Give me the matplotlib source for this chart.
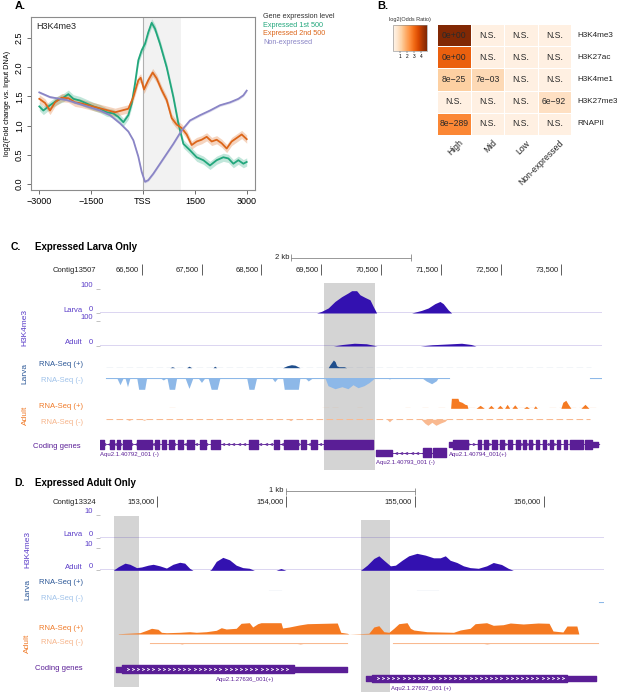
import numpy as np
import matplotlib
matplotlib.use("Agg")
import matplotlib.pyplot as plt

plt.rcParams['font.family'] = ['Liberation Sans', 'DejaVu Sans']

W, H = 617, 692

# ---------------- panel A: H3K4me3 profile around TSS ----------------
a_ticks = [-3000, -1500, 0, 1500, 3000]
a_ticklabels = ['\u22123000', '\u22121500', 'TSS', '1500', '3000']
a_yticks = [0.0, 0.5, 1.0, 1.5, 2.0, 2.5]
a_shade_end = 1100

green_x = [-3000, -2883, -2690, -2497, -2304, -2160, -2015, -1822, -1629, -1436, -1243, -1050, -857,
           -713, -568, -424, -327, -231, -135, -38, 58, 154, 251, 347, 492, 685, 878, 1022, 1167,
           1360, 1553, 1746, 1938, 2131, 2324, 2469, 2614, 2758, 2903, 3000]
green_y = [1.33, 1.26, 1.35, 1.43, 1.48, 1.54, 1.46, 1.43, 1.38, 1.33, 1.29, 1.23, 1.21,
           1.15, 1.06, 1.18, 1.38, 1.72, 2.12, 2.29, 2.40, 2.60, 2.76, 2.66, 2.40, 2.00, 1.49, 1.04, 0.69,
           0.58, 0.46, 0.41, 0.32, 0.41, 0.46, 0.44, 0.35, 0.41, 0.35, 0.38]
orange_x = [-3000, -2835, -2690, -2545, -2352, -2160, -1967, -1774, -1581, -1388, -1195, -1002, -809,
            -616, -424, -279, -135, -67, 29, 154, 280, 395, 540, 685, 830, 974, 1119, 1264, 1408,
            1553, 1697, 1842, 1987, 2131, 2276, 2421, 2565, 2710, 2855, 3000]
orange_y = [1.46, 1.39, 1.26, 1.40, 1.48, 1.47, 1.40, 1.38, 1.35, 1.32, 1.29, 1.26, 1.23,
            1.26, 1.29, 1.49, 1.78, 1.82, 1.62, 1.78, 1.91, 1.81, 1.61, 1.44, 1.13, 1.02, 0.96, 0.85, 0.67,
            0.73, 0.76, 0.81, 0.73, 0.76, 0.70, 0.61, 0.73, 0.79, 0.85, 0.77]
purple_x = [-3000, -2690, -2208, -1725, -1243, -953, -664, -424, -279, -135, -38, 58, 154, 299, 492,
            685, 878, 1119, 1360, 1649, 1938, 2228, 2517, 2758, 2903, 3000]
purple_y = [1.57, 1.49, 1.44, 1.35, 1.26, 1.18, 1.04, 0.90, 0.75, 0.47, 0.21, 0.04, 0.07, 0.18, 0.35,
            0.52, 0.69, 0.92, 1.09, 1.18, 1.26, 1.35, 1.40, 1.46, 1.52, 1.60]
a_series = ['Expressed 1st 500', 'Expressed 2nd 500', 'Non-expressed']
a_se = [0.07, 0.07, 0.02]
a_colors = ['#22a77c', '#dc661a', '#8a85c6']

# ---------------- panel B: enrichment heatmap ----------------
hm_rows = ['H3K4me3', 'H3K27ac', 'H3K4me1', 'H3K27me3', 'RNAPII']
hm_cols = ['High', 'Mid', 'Low', 'Non-expressed']
hm_log2or = [[4.75, 0.2, 0.2, 0.2],
             [3.15, 0.2, 0.2, 0.2],
             [1.2, 0.95, 0.2, 0.2],
             [0.2, 0.2, 0.2, 0.75],
             [2.5, 0.2, 0.2, 0.2]]
hm_text = [['0e+00', 'N.S.', 'N.S.', 'N.S.'],
           ['0e+00', 'N.S.', 'N.S.', 'N.S.'],
           ['8e\u221225', '7e\u221203', 'N.S.', 'N.S.'],
           ['N.S.', 'N.S.', 'N.S.', '6e\u221292'],
           ['8e\u2212289', 'N.S.', 'N.S.', 'N.S.']]
hm_cbar_ticks = [1, 2, 3, 4]

# ---------------- panel C: Contig13507, expressed in larva only ----------------
c_xlim = (65811, 74184)
c_ticks = [66500, 67500, 68500, 69500, 70500, 71500, 72500, 73500]
c_scalebar = (69000, 71000)
c_highlight = (69550, 70400)

c_larva_k4_x = [65811, 69420, 69504, 69614, 69726, 69838, 69949, 70005, 70088, 70144, 70227, 70311,
                70366, 70422, 71006, 71173, 71284, 71395, 71479, 71534, 71617, 71674, 74184]
c_larva_k4_y = [0, 0, 7, 21, 48, 68, 84, 93, 93, 76, 65, 55, 27, 0, 0, 11, 21, 39, 48, 39, 13, 0, 0]
c_adult_k4_x = [65811, 69700, 69850, 70050, 70250, 70430, 71150, 71350, 71600, 71840, 72000, 72080, 74184]
c_adult_k4_y = [0, 0, 6, 11, 9, 0, 0, 5, 8, 11, 6, 0, 0]

c_lrna_pos_x = [66972, 67010, 67056, 67251, 67290, 67335, 67690, 67720, 67752, 68853, 68930, 69000,
                69060, 69142, 69614, 69643, 69700, 69730, 69754, 69790, 69850, 69880, 69920]
c_lrna_pos_y = [0, 1, 0, 0, 1.5, 0, 0, 1.5, 0, 0, 2, 3, 2.5, 0, 0, 3, 7.7, 6, 2, 1, 1, 1, 0]
c_lrna_neg_x = [66083, 66138, 66193, 66221, 66263, 66305, 66417, 66450, 66550, 66583, 66805, 66861,
                66917, 66922, 66960, 67050, 67084, 67223, 67290, 67356, 67440, 67498, 67557, 67607,
                67660, 67760, 67807, 68252, 68291, 68374, 68419, 68670, 68720, 68775, 68853, 68880,
                69115, 69142, 69225, 69280, 69358, 69559, 69610, 69727, 69843, 69944, 70027, 70111,
                70211, 70294, 70394, 70594, 70636, 70678, 71173, 71250, 71340, 71420, 71448]
c_lrna_neg_y = [0, -7, 0, 0, -9, 0, 0, -11.6, -11.6, 0, 0, -2.3,
                0, 0, -11.6, -11.6, 0, 0, -10.7, 0, 0, -4.7, 0, 0,
                -11.6, -11.6, 0, 0, -11.6, -11.6, 0, 0, -4, 0, 0, -11.6,
                -11.6, 0, 0, -3.3, 0, 0, -8, -11, -9, -11, -7, -10,
                -8, -5, 0, 0, -1.3, 0, 0, -3.3, -6, -3, 0]
c_lrna_neg_cov = [(65905, 71629), (73990, 74184)]

c_arna_pos_x = [71657, 71670, 71779, 71796, 71846, 71896, 71930, 71946,
                72082, 72150, 72218, 72280, 72330, 72380, 72430, 72480, 72530, 72558, 72600, 72643,
                72680, 72728, 72775, 72874, 72923, 72972, 73039, 73070, 73104,
                73498, 73530, 73580, 73620, 73665, 73832, 73900, 73966]
c_arna_pos_y = [0, 10, 10, 7, 6, 4, 3.5, 0,
                0, 3, 0, 0, 3, 0, 0, 3, 0, 0, 4, 0,
                0, 3.5, 0, 0, 2, 0, 0, 2.5, 0,
                0, 6, 8, 4, 0, 0, 4, 0]
c_arna_pos_cov = [(66958, 67056), (69504, 69781), (70088, 70171), (70895, 70978), (71173, 71283),
                  (71445, 71562), (71946, 73130), (73298, 74117)]
c_arna_neg_x = [66250, 66290, 66330, 66500, 66540, 66580, 68950, 68985, 69020,
                70594, 70636, 70678, 71165, 71228, 71278, 71345, 71412, 71479, 71562, 71596]
c_arna_neg_y = [0, -1, 0, 0, -1, 0, 0, -1.3, 0,
                0, -2.5, 0, 0, -4, -6, -3, -6, -4, -2, 0]
c_arna_neg_cov = [(65905, 73990)]

c_genes = ['Aqu2.1.40792_001 (-)', 'Aqu2.1.40793_001 (-)', 'Aqu2.1.40794_001(+)']
c_gene_rows = [0, 1, 0]
c_gene_span = [(65811, 70364), (70410, 71580), (71626, 74123)]
c_gene_strand = ['-', '-', '+']
c_gene_exons = [
    [(65811, 65876), (65974, 66041), (66086, 66139), (66184, 66323), (66422, 66665), (66730, 66784),
     (66842, 66908), (66961, 67039), (67106, 67191), (67256, 67375), (67473, 67572), (67650, 67802),
     (68288, 68439), (68702, 68787), (68880, 69109), (69162, 69247), (69326, 69424), (69536, 70364)],
    [(71198, 71330), (71363, 71580)],
    [(71693, 71955), (72106, 72165), (72218, 72283), (72349, 72428), (72480, 72545), (72612, 72677),
     (72742, 72809), (72861, 72914), (72973, 73019), (73084, 73137), (73203, 73256), (73321, 73367),
     (73433, 73478), (73545, 73597), (73650, 73860), (73900, 74024)],
]
c_gene_utrs = [[], [(70410, 70673)], [(71626, 71693), (74024, 74123)]]

# ---------------- panel D: Contig13324, expressed in adult only ----------------
d_xlim = (152558, 156466)
d_ticks = [153000, 154000, 155000, 156000]
d_scalebar = (154000, 155000)
d_highlights = [(152664, 152857), (154579, 154811)]

d_larva_k4_x = [152558, 156466]
d_larva_k4_y = [0, 0]
d_adult_k4_x = [152558, 152658, 152697, 152749, 152787, 152839, 152878, 152929, 152968, 153019, 153071,
                153122, 153174, 153213, 153251, 153277, 153406, 153419, 153458, 153509, 153561, 153613,
                153664, 153715, 153754, 153922, 153961, 153999,
                154579, 154630, 154682, 154721, 154760, 154811, 154850, 154901, 154953, 155017, 155082,
                155146, 155198, 155237, 155275, 155327, 155378, 155430, 155494, 155558, 155610, 155674,
                155726, 155765, 156466]
d_adult_k4_y = [0, 0, 1.6, 3.2, 2.7, 1.2, 1.5, 2.3, 2.7, 2.0, 1.0,
                2.7, 3.6, 3.2, 0.9, 0, 0, 0.5, 4.0, 5.8, 4.7, 2.3,
                1.2, 0.9, 0, 0, 0.8, 0,
                0, 2.3, 5.3, 6.5, 4.5, 2.0, 2.3, 4.5, 6.5, 7.6, 6.8,
                5.6, 5.6, 6.5, 4.5, 3.5, 2.0, 1.2, 0.9, 2.0, 3.5, 2.6,
                0.9, 0, 0]

d_lrna_pos_cov = [(153870, 153961), (155017, 155177)]
d_lrna_neg_cov = [(156430, 156466)]
d_arna_pos_x = [152697, 152865, 152916, 152955, 153006, 153032, 153071, 153174, 153251, 153303, 153381,
                153458, 153497, 153535, 153613, 153651, 153715, 153741, 153780, 153806, 153961, 153973,
                154025, 154102, 154166, 154398, 154425, 154476, 154489,
                154643, 154682, 154721, 154760, 154799, 154837, 154876, 154940, 154966, 154992, 155094,
                155301, 155353, 155430, 155469, 155558, 155610, 155687, 155742, 155842, 155958, 156043,
                156074, 156151, 156182, 156259, 156274]
d_arna_pos_y = [0.3, 1.3, 3.7, 5.7, 4.7, 1.7, 1.3, 1.7, 2.3, 1.7, 2.3,
                3.7, 6.3, 5.0, 5.7, 10.7, 11.3, 7.0, 10.3, 11.3, 11.3, 6.0,
                7.0, 9.0, 10.3, 11.0, 1.7, 0.7, 0,
                0.7, 7.0, 8.3, 2.3, 1.7, 5.7, 10.3, 11.3, 5.7, 4.0, 2.3,
                1.7, 4.0, 5.7, 10.3, 11.3, 8.7, 9.3, 11.0, 10.0, 11.0, 10.7,
                3.0, 2.0, 8.0, 8.0, 0.3]
d_arna_neg_x = [153170, 153190, 153210, 154080, 154110, 154140, 155530, 155560, 155590]
d_arna_neg_y = [0, -0.8, 0, 0, -0.8, 0, 0, -0.8, 0]
d_arna_neg_cov = [(152942, 154476), (154829, 156422)]

d_genes = ['Aqu2.1.27636_001(+)', 'Aqu2.1.27637_001 (+)']
d_gene_rows = [0, 1]
d_gene_span = [(152679, 154476), (154623, 156404)]
d_gene_cds = [(152725, 154060), (154668, 156182)]
d_gene_label_x = [153684, 155050]

# colours
K4_FILL, K4_TXT = '#3311b0', '#5a3cc8'
LP_COL, LP_TXT = '#1f4e8c', '#2b5797'
LN_COL, LN_TXT = '#8db8e8', '#9fc2ea'
AP_COL, AP_TXT = '#f57a22', '#f07a28'
AN_COL, AN_TXT = '#f9b990', '#f6b48a'
GENE_COL = '#5a1e96'
HL_COL = '#d4d4d4'


def box(x0, y0, x1, y1):
    return [x0 / W, 1 - y1 / H, (x1 - x0) / W, (y1 - y0) / H]


def ftext(x, y, s, **kw):
    fig.text(x / W, 1 - y / H, s, **kw)


def track_axes(x0, x1, y0, y1, xlim, ylim):
    ax = fig.add_axes(box(x0, y0, x1, y1))
    ax.set_xlim(*xlim)
    ax.set_ylim(*ylim)
    ax.set_facecolor('none')
    ax.axis('off')
    return ax


def k4_track(x0, x1, y0, y1, xlim, top, xs, ys, name):
    ax = fig.add_axes(box(x0, y0, x1, y1))
    ax.set_xlim(*xlim)
    ax.set_ylim(0, top)
    ax.set_facecolor('none')
    for s in ax.spines.values():
        s.set_visible(False)
    ax.set_xticks([])
    ax.set_yticks([0, top])
    ax.set_yticklabels(['0', str(top)], fontsize=5.5, color=K4_TXT)
    for lab in ax.get_yticklabels():
        lab.set_va('bottom')
    ax.tick_params(axis='y', length=3, width=0.5, color='#aaaaaa', pad=2.5)
    ax.fill_between(xs, 0, ys, color=K4_FILL, lw=0)
    ax.axhline(0, color=K4_FILL, lw=1.0, alpha=0.85)
    ftext(83, y1 - 3, name, ha='right', va='center', fontsize=5.5, color=K4_TXT)
    return ax


def ruler(x0, x1, y0, y1, xlim, ticks, scalebar, scale_label, y_bar, y_lab, contig):
    ax = track_axes(x0, x1, y0, y1, xlim, (y1, y0))
    ax.plot(scalebar, [y_bar, y_bar], color='#888888', lw=0.6)
    ax.vlines(scalebar, y_bar - 3.5, y_bar + 3.5, color='#888888', lw=0.6)
    ax.annotate(scale_label, (scalebar[0], y_bar), xytext=(-1.5, 0), textcoords='offset points',
                ha='right', va='center', fontsize=5.5, color='#222222')
    ax.vlines(ticks, y_lab - 6, y_lab + 5, color='#444444', lw=0.6)
    for t in ticks:
        ax.annotate(f'{t:,}', (t, y_lab), xytext=(-2, 0), textcoords='offset points',
                    ha='right', va='center', fontsize=5.5, color='#222222')
    ftext(96.5, y_lab, contig, ha='right', va='center', fontsize=5.5, color='#222222')


def coverage_lines(ax, spans, color, dashed=False, lw=0.8):
    for s, e in spans:
        ax.plot([s, e], [0, 0], color=color, lw=lw, ls=(0, (6, 3)) if dashed else '-')


fig = plt.figure(figsize=(W / 100, H / 100), dpi=100)

# ================= A =================
ax = fig.add_axes(box(31, 17, 255, 190))
ax.axvspan(0, a_shade_end, color='#f2f2f2', lw=0, zorder=0)
ax.axvline(0, color='#b0b0b0', lw=0.8, zorder=1)
for xs, ys, se, col in zip([green_x, orange_x, purple_x], [green_y, orange_y, purple_y], a_se, a_colors):
    ys = np.array(ys)
    ax.fill_between(xs, ys - se, ys + se, color=col, alpha=0.28, lw=0, zorder=2)
    ax.plot(xs, ys, color=col, lw=1.3, zorder=3)
ax.set_xlim(-3240, 3240)
ax.set_ylim(-0.1, 2.86)
ax.set_xticks(a_ticks)
ax.set_xticklabels(a_ticklabels, fontsize=6.5)
ax.set_yticks(a_yticks)
ax.set_yticklabels([f'{v:.1f}' for v in a_yticks], fontsize=6.5, rotation=90, va='center')
ax.tick_params(length=3, width=0.6, color='#555555', pad=2)
for s in ax.spines.values():
    s.set_color('#8c8c8c')
    s.set_linewidth(0.8)
ax.text(0.025, 0.93, 'H3K4me3', transform=ax.transAxes, fontsize=6.5, color='#222222')
ax.set_ylabel('log2(Fold change vs. Input DNA)', fontsize=5.2, labelpad=3)
ftext(15, 6, 'A.', fontsize=8, fontweight='bold', va='center')
ftext(263, 17, 'Gene expression level', fontsize=5.2, va='center', color='#333333')
for i, (lab, col) in enumerate(zip(a_series, a_colors)):
    ftext(263, 25.3 + 8.4 * i, lab, fontsize=5.2, va='center', color=col)

# ================= B =================
ftext(377, 6, 'B.', fontsize=8, fontweight='bold', va='center')
hax = fig.add_axes(box(437, 24, 571, 135))
mesh = hax.pcolormesh(np.array(hm_log2or), cmap='Oranges', vmin=0, vmax=4.8,
                      edgecolors='white', linewidth=0.7)
hax.set_xlim(0, len(hm_cols))
hax.set_ylim(len(hm_rows), 0)
hax.axis('off')
for i, row in enumerate(hm_text):
    for j, s in enumerate(row):
        hax.text(j + 0.5, i + 0.5, s, ha='center', va='center', fontsize=6.2, color='#2a2a2a')
for i, lab in enumerate(hm_rows):
    hax.text(len(hm_cols) + 0.18, i + 0.5, lab, ha='left', va='center', fontsize=5.9, color='#222222')
for j, lab in enumerate(hm_cols):
    hax.text(j + 0.65, len(hm_rows) + 0.15, lab, ha='right', va='top', rotation=45,
             rotation_mode='anchor', fontsize=6.2, color='#222222')
cax = fig.add_axes(box(393, 25, 427, 51))
cb = fig.colorbar(mesh, cax=cax, orientation='horizontal', ticks=hm_cbar_ticks)
cb.outline.set_linewidth(0.4)
cb.outline.set_edgecolor('#888888')
cax.tick_params(labelsize=3.5, length=1.5, width=0.3, pad=0.8)
ftext(410, 20, 'log2(Odds Ratio)', fontsize=4, ha='center', va='center', color='#333333')

# ================= C =================
ftext(11, 247, 'C.', fontsize=7.5, fontweight='bold', va='center')
ftext(35, 247, 'Expressed Larva Only', fontsize=7, fontweight='bold', va='center')
cx0, cx1 = 100.4, 602
bg = track_axes(cx0, cx1, 283, 470, c_xlim, (0, 1))
bg.axvspan(*c_highlight, color=HL_COL, lw=0)
ruler(cx0, cx1, 250, 280, c_xlim, c_ticks, c_scalebar, '2 kb', 258, 270, 'Contig13507')

k4_track(cx0, cx1, 289, 313, c_xlim, 100, c_larva_k4_x, c_larva_k4_y, 'Larva')
k4_track(cx0, cx1, 321, 346, c_xlim, 100, c_adult_k4_x, c_adult_k4_y, 'Adult')

ax = track_axes(cx0, cx1, 357, 367.7, c_xlim, (0, 10.7))
ax.fill_between(c_lrna_pos_x, 0, c_lrna_pos_y, color=LP_COL, lw=0)
coverage_lines(ax, [(65900, 74000)], LP_COL, dashed=True)
ftext(83, 365, 'RNA-Seq (+)', ha='right', va='center', fontsize=5.5, color=LP_TXT)

ax = track_axes(cx0, cx1, 377.7, 390, c_xlim, (-12.3, 0))
ax.fill_between(c_lrna_neg_x, 0, c_lrna_neg_y, color=LN_COL, lw=0)
coverage_lines(ax, c_lrna_neg_cov, LN_COL, lw=0.8)
ftext(83, 381, 'RNA-Seq (-)', ha='right', va='center', fontsize=5.5, color=LN_TXT)

ax = track_axes(cx0, cx1, 396, 408.3, c_xlim, (0, 12.3))
ax.fill_between(c_arna_pos_x, 0, c_arna_pos_y, color=AP_COL, lw=0)
coverage_lines(ax, c_arna_pos_cov, AP_COL, dashed=True)
ftext(83, 407, 'RNA-Seq (+)', ha='right', va='center', fontsize=5.5, color=AP_TXT)

ax = track_axes(cx0, cx1, 419.3, 427, c_xlim, (-7.7, 0))
ax.fill_between(c_arna_neg_x, 0, c_arna_neg_y, color=AN_COL, lw=0)
coverage_lines(ax, c_arna_neg_cov, AN_COL, dashed=True)
ftext(83, 422, 'RNA-Seq (-)', ha='right', va='center', fontsize=5.5, color=AN_TXT)

gax = track_axes(cx0, cx1, 438, 470, c_xlim, (3.11, -0.79))
for name, row, (s, e), strand, exons, utrs in zip(c_genes, c_gene_rows, c_gene_span, c_gene_strand,
                                                   c_gene_exons, c_gene_utrs):
    gax.plot([s, e], [row, row], color=GENE_COL, lw=0.6, zorder=1)
    marks = np.arange(s + 60, e, 90)
    gax.plot(marks, [row] * len(marks), ls='none',
             marker=r'$<$' if strand == '-' else r'$>$', ms=2.2, mew=0.2, color=GENE_COL, zorder=1)
    gax.broken_barh([(a, b - a) for a, b in exons], (row - 0.56, 1.12), color=GENE_COL, zorder=2)
    gax.broken_barh([(a, b - a) for a, b in utrs], (row - 0.36, 0.72), color=GENE_COL, zorder=2)
    gax.text(s, row + 1.25, name, ha='left', va='center', fontsize=4.3, color=GENE_COL)
ftext(81, 447, 'Coding genes', ha='right', va='center', fontsize=5.5, color=GENE_COL)

ftext(25, 327, 'H3K4me3', rotation=90, ha='center', va='center', fontsize=6, color=K4_TXT)
ftext(25, 373, 'Larva', rotation=90, ha='center', va='center', fontsize=6, color=LP_TXT)
ftext(25, 415, 'Adult', rotation=90, ha='center', va='center', fontsize=6, color=AP_TXT)

# ================= D =================
ftext(14, 483, 'D.', fontsize=7.5, fontweight='bold', va='center')
ftext(35, 483, 'Expressed Adult Only', fontsize=7, fontweight='bold', va='center')
dx0, dx1 = 100.4, 603.5
bg = track_axes(dx0, dx1, 516, 692, d_xlim, (0, 1))
bg.axvspan(*d_highlights[0], ymin=0.03, ymax=1.0, color=HL_COL, lw=0)
bg.axvspan(*d_highlights[1], ymin=0.0, ymax=0.975, color=HL_COL, lw=0)
ruler(dx0, dx1, 483, 510, d_xlim, d_ticks, d_scalebar, '1 kb', 491, 502, 'Contig13324')

k4_track(dx0, dx1, 515, 537.5, d_xlim, 10, d_larva_k4_x, d_larva_k4_y, 'Larva')
k4_track(dx0, dx1, 548, 570.3, d_xlim, 10, d_adult_k4_x, d_adult_k4_y, 'Adult')

ax = track_axes(dx0, dx1, 583, 591, d_xlim, (0, 8))
coverage_lines(ax, d_lrna_pos_cov, '#4a72aa', lw=0.8)
ftext(83, 582, 'RNA-Seq (+)', ha='right', va='center', fontsize=5.5, color=LP_TXT)

ax = track_axes(dx0, dx1, 601.7, 606, d_xlim, (-4.3, 0))
coverage_lines(ax, d_lrna_neg_cov, LN_COL, lw=0.8)
ftext(83, 599, 'RNA-Seq (-)', ha='right', va='center', fontsize=5.5, color=LN_TXT)

ax = track_axes(dx0, dx1, 621, 634, d_xlim, (0, 13))
ax.fill_between(d_arna_pos_x, 0, d_arna_pos_y, color=AP_COL, lw=0)
ftext(83, 629, 'RNA-Seq (+)', ha='right', va='center', fontsize=5.5, color=AP_TXT)

ax = track_axes(dx0, dx1, 643.3, 648, d_xlim, (-4.7, 0))
ax.fill_between(d_arna_neg_x, 0, d_arna_neg_y, color=AN_COL, lw=0)
coverage_lines(ax, d_arna_neg_cov, AN_COL, lw=0.8)
ftext(83, 643, 'RNA-Seq (-)', ha='right', va='center', fontsize=5.5, color=AN_TXT)

gax = track_axes(dx0, dx1, 660, 692, d_xlim, (2.47, -0.97))
for name, row, (s, e), (cs, ce), lx in zip(d_genes, d_gene_rows, d_gene_span, d_gene_cds, d_gene_label_x):
    gax.broken_barh([(s, e - s)], (row - 0.27, 0.54), color=GENE_COL)
    gax.broken_barh([(cs, ce - cs)], (row - 0.38, 0.76), color=GENE_COL)
    chev = np.arange(cs + 45, ce - 20, 40)
    gax.plot(chev, [row] * len(chev), ls='none', marker=r'$>$', ms=2.0, mew=0.2, color='white')
    gax.text(lx, row + 1.12, name, ha='center', va='center', fontsize=4.3, color=GENE_COL)
ftext(83, 669, 'Coding genes', ha='right', va='center', fontsize=5.5, color=GENE_COL)

ftext(27.5, 550, 'H3K4me3', rotation=90, ha='center', va='center', fontsize=6, color=K4_TXT)
ftext(27.5, 590, 'Larva', rotation=90, ha='center', va='center', fontsize=6, color=LP_TXT)
ftext(27.5, 643, 'Adult', rotation=90, ha='center', va='center', fontsize=6, color=AP_TXT)

fig.savefig('out.png', dpi=100)
